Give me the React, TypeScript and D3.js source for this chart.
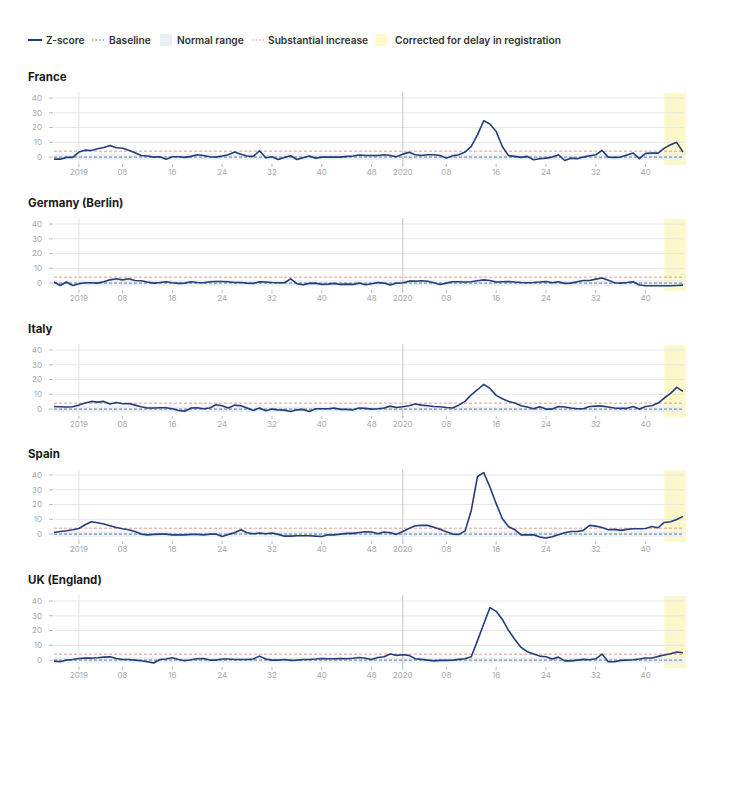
import React from "react";
import * as d3 from "d3";

// ---- Data (z-scores, weekly from 2018-W49 to 2020-W46) ----
const countries = ["France", "Germany (Berlin)", "Italy", "Spain", "UK (England)"];

const france = [
  -1.4, -1.4, -0.2, -0.2, 3.4, 4.7, 4.5, 5.6, 6.5, 7.9, 6.3, 6, 4.7, 2.9, 1.1, 0.7, 0, 0.2, -1.4, 0.2,
  0.2, -0.2, 0.5, 1.6, 1.1, 0.2, 0, 0.7, 1.6, 3.4, 2, 0.7, 0.5, 4.3, -0.5, 0.2, -1.6, -0.2, 0.9, -1.6,
  -0.5, 0.7, -0.7, 0, 0, 0, 0, 0.5, 0.7, 1.4, 1.1, 1.1, 1.1, 1.6, 1.1, 0.2, 2, 3.2, 1.6, 1.1,
  1.6, 1.6, 1.1, -0.7, 0.9, 1.6, 3.4, 7.2, 15, 24.6, 22.4, 17.4, 7, 1, 0.5, -0.2, 0.5, -1.8, -1.1, -0.7,
  0, 1.6, -2.3, -0.7, -1.1, 0, 0.9, 1.6, 4.5, 0, -0.2, 0, 1.4, 2.7, -1.1, 2.5, 2.7, 2.7, 6.1, 8.4,
  10, 3.4,
];
const germany = [
  0.7, -1.6, 0.7, -1.6, -0.4, 0.2, 0.2, 0, 0.9, 2.2, 2.9, 2.2, 2.9, 1.8, 1.6, 0.7, 0, 0.4, 0.9, 0.2,
  -0.2, 0, 0.9, 0.4, 0.2, 0.9, 1.1, 1.1, 0.9, 0.4, 0.4, 0, -0.2, 0.9, 0.7, 0.4, 0.2, 0.2, 2.9, -0.4,
  -1.1, -0.2, 0, -0.9, -0.7, -0.2, -0.9, -0.7, -0.9, 0, -1.1, -0.5, 0.4, 0, -1.3, 0, 0.2, 1.3, 1.3, 1.6,
  1.3, 0.2, -0.9, 0, 0.9, 0.9, 0.7, 0.9, 1.6, 2.2, 1.8, 0.7, 0.9, 1.1, 0.7, 0.4, 0.2, 0.4, 0.7, 1.1,
  0.2, 0.9, -0.2, 0, 0.9, 1.8, 1.8, 2.7, 3.4, 2, 0.2, 0, 0.4, 0.9, -1.3, -1.8, -1.8, -1.8, -1.8, -1.8,
  -1.6, -1.4,
];
const italy = [
  1.8, 1.6, 1.4, 1.6, 2.7, 4.1, 5.2, 4.7, 5.2, 3.4, 4.5, 3.6, 3.8, 2.7, 1.6, 0.7, 0.7, 0.9, 0.9, 0.2,
  -0.9, -1.4, 0.7, 0.9, 0.2, 0.7, 2.9, 2.3, 0.7, 2.7, 2.3, 0.7, -0.9, 0.7, -1.1, 0, -0.5, -0.7, -1.6, -0.5,
  -0.2, -1.6, 0.2, 0.2, 0.2, 0.7, -0.2, -0.2, -0.5, 0.7, 0.5, 0, 0.2, 0.7, 2, 1.1, 1.6, 2.3, 3.4, 2.7,
  2.3, 1.8, 1.6, 1.1, 0.7, 2.7, 5.2, 9.7, 13.1, 16.7, 14, 9.3, 7, 5.2, 4.1, 2.3, 1.4, 0.2, 1.6, 0,
  0, 1.8, 1.4, 0.7, 0.2, 0.2, 1.8, 2, 2, 1.4, 0.7, 0.5, 0.5, 1.8, 0, 1.8, 2.3, 4.1, 7.5, 10.6,
  14.7, 12,
];
const spain = [
  1.1, 1.8, 2.3, 2.9, 3.8, 6.3, 8.4, 7.7, 6.8, 5.6, 4.5, 3.6, 2.9, 1.8, 0, -0.5, -0.2, 0, 0, -0.5,
  -0.5, -0.5, -0.2, -0.2, -0.5, 0, 0, -1.6, -0.2, 0.9, 2.9, 0.9, 0.2, 0.7, 0.2, 0.7, -0.2, -1.4, -1.4, -1.1,
  -1.1, -1.1, -1.4, -1.6, -0.5, -0.5, 0, 0.5, 0.5, 1.1, 1.6, 1.4, 0.2, 1.4, 0.9, -0.2, 1.8, 3.8, 5.6, 5.9,
  5.9, 4.7, 3.2, 1.6, 0, -0.2, 2, 16, 39, 41.6, 31.9, 20.6, 10.4, 5, 2.9, -0.5, -0.5, -0.5, -2, -2.7,
  -1.8, -0.5, 0.9, 1.8, 1.8, 2.5, 5.9, 5.4, 4.5, 2.9, 3.2, 2.5, 3.2, 3.6, 3.6, 3.8, 5.2, 4.3, 7.9, 8.4,
  9.9, 12,
];
const uk = [
  -0.7, -1.1, 0, 0.4, 1.1, 1.3, 1.3, 1.6, 2, 2.2, 1.1, 0.4, 0.4, 0, -0.4, -1.1, -2, 0.4, 0.7, 1.6,
  0.4, -0.4, 0.2, 0.9, 1.1, 0, 0, 0.7, 0.7, 0.4, 0.4, 0.4, 0.7, 2.7, 0.7, 0, 0, 0.4, -0.2, 0,
  0.4, 0.4, 0.7, 1.1, 0.9, 0.9, 1.1, 0.9, 1.3, 1.8, 1.3, 0.4, 1.8, 2.3, 4.1, 3.2, 3.6, 3.2, 0.9, 0.5,
  0, -0.5, -0.2, -0.2, 0, 0.5, 0.9, 2.3, 13.2, 24.5, 35.5, 33, 27.5, 20, 13.9, 8.6, 5.7, 4.1, 2.7, 2.3,
  0.7, 2, -0.5, -0.5, 0, 0.5, 0.2, 0.9, 4.1, -1.1, -1.1, -0.2, 0, 0.2, 0.7, 1.4, 1.4, 2.5, 3.4, 4.3,
  5.5, 5,
];
const seriesByCountry = [france, germany, italy, spain, uk];

const yTicks = [0, 10, 20, 30, 40];
const xTickWeeks = ["2019-W01", "2019-W08", "2019-W16", "2019-W24", "2019-W32", "2019-W40", "2019-W48",
  "2020-W01", "2020-W08", "2020-W16", "2020-W24", "2020-W32", "2020-W40"];
const xTickLabels = ["2019", "08", "16", "24", "32", "40", "48", "2020", "08", "16", "24", "32", "40"];
const yearStarts = ["2019-W01", "2020-W01"];
const correctedFrom = "2020-W43";
const baselineValue = 0;
const normalRange = [-2, 2];
const substantialValue = 4;

// week categories
const weeks: string[] = [];
for (let w = 49; w <= 52; w++) weeks.push(`2018-W${w}`);
for (let w = 1; w <= 52; w++) weeks.push(`2019-W${String(w).padStart(2, "0")}`);
for (let w = 1; w <= 46; w++) weeks.push(`2020-W${String(w).padStart(2, "0")}`);

const FONT = "Inter, 'Open Sans', sans-serif";
const LINE = "#233d7b";

function Panel({ title, values, top }: { title: string; values: number[]; top: number }) {
  const x = d3.scaleLinear().domain([0, weeks.length - 1]).range([54, 683]);
  const y = d3.scaleLinear().domain([-4, 43.4]).range([top + 70, top]);
  const xi = (wk: string) => x(weeks.indexOf(wk));
  const line = d3.line<number>().x((_, i) => x(i)).y((d) => y(d));
  const bottom = top + 72;
  const cx0 = xi(correctedFrom);
  return (
    <g>
      <text x={28} y={top - 12} fontSize={11.5} fontWeight={700} fill="#1a1a1a" fontFamily={FONT}>{title}</text>
      {/* corrected region */}
      <rect x={cx0} y={top} width={x(weeks.length - 1) + 3 - cx0} height={bottom - top} fill="#fdf8cc" />
      {/* normal range */}
      <rect x={54} y={y(normalRange[1])} width={683 - 54} height={y(normalRange[0]) - y(normalRange[1])} fill="#e6eef7" opacity={0.85} />
      {/* gridlines */}
      {yTicks.filter((t) => t > 0).map((t) => (
        <line key={t} x1={54} x2={684} y1={y(t)} y2={y(t)} stroke="#e6e6e6" strokeWidth={1} />
      ))}
      {/* y axis labels */}
      {yTicks.map((t) => (
        <g key={t}>
          <text x={42} y={y(t)} dy="0.34em" textAnchor="end" fontSize={8} fill="#aaa" fontFamily={FONT}>{t}</text>
          <line x1={49} x2={53} y1={y(t)} y2={y(t)} stroke="#bbb" />
        </g>
      ))}
      {/* year lines */}
      {yearStarts.map((wk, i) => (
        <line key={wk} x1={xi(wk)} x2={xi(wk)} y1={top - 1} y2={bottom} stroke={i === 0 ? "#e3e3e3" : "#c4c4c4"} strokeWidth={1} />
      ))}
      {/* x ticks */}
      {xTickWeeks.map((wk, i) => (
        <g key={wk}>
          <line x1={xi(wk)} x2={xi(wk)} y1={bottom - 1} y2={bottom + 2} stroke="#bbb" />
          <text x={xi(wk)} y={bottom + 10} textAnchor="middle" fontSize={8} fill="#aaa" fontFamily={FONT}>{xTickLabels[i]}</text>
        </g>
      ))}
      {/* substantial increase */}
      <line x1={54} x2={683} y1={y(substantialValue)} y2={y(substantialValue)} stroke="#e59a8a" strokeDasharray="3,2" strokeWidth={1} />
      {/* baseline */}
      <line x1={54} x2={683} y1={y(baselineValue)} y2={y(baselineValue)} stroke="#777" strokeDasharray="3,2" strokeWidth={1} />
      {/* z-score */}
      <path d={line(values) || ""} fill="none" stroke={LINE} strokeWidth={1.6} strokeLinejoin="round" />
    </g>
  );
}

export default function App() {
  const tops = [93, 219, 345, 470, 596];
  return (
    <div style={{ position: "absolute", left: 0, top: 0 }}>
      <svg width={752} height={800} style={{ display: "block", background: "#fff" }}>
        {/* legend */}
        <g fontFamily={FONT} fontSize={10.2} fontWeight={600} fill="#333">
          <line x1={28} x2={42} y1={40} y2={40} stroke={LINE} strokeWidth={2} />
          <text x={46} y={40} dy="0.35em">Z-score</text>
          <line x1={92} x2={104} y1={40} y2={40} stroke="#666" strokeWidth={1.2} strokeDasharray="1.5,2" />
          <text x={109} y={40} dy="0.35em">Baseline</text>
          <rect x={160} y={34} width={12} height={12} fill="#e8eef3" />
          <text x={177} y={40} dy="0.35em">Normal range</text>
          <line x1={252} x2={264} y1={40} y2={40} stroke="#e59a8a" strokeWidth={1.2} strokeDasharray="1.5,2" />
          <text x={268} y={40} dy="0.35em">Substantial increase</text>
          <rect x={375} y={34} width={12} height={12} fill="#fcf7cf" />
          <text x={395} y={40} dy="0.35em">Corrected for delay in registration</text>
        </g>
        {countries.map((c, i) => (
          <Panel key={c} title={c} values={seriesByCountry[i]} top={tops[i]} />
        ))}
      </svg>
    </div>
  );
}
